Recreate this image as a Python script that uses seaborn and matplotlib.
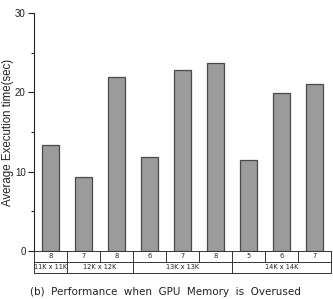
import matplotlib
matplotlib.use("Agg")
import matplotlib.pyplot as plt
import matplotlib.transforms as mtransforms
import seaborn as sns
import pandas as pd
from matplotlib.ticker import MultipleLocator

# data
gpu_counts = ["8", "7", "8", "6", "7", "8", "5", "6", "7"]
exec_times = [13.4, 9.3, 21.9, 11.9, 22.8, 23.7, 11.5, 19.9, 21.1]
groups = ["11K x 11K", "12K x 12K", "13K x 13K", "14K x 14K"]
group_sizes = [1, 2, 3, 3]
caption = "(b)  Performance  when  GPU  Memory  is  Overused"
ylabel = "Average Execution time(sec)"

sns.set_style("white")
plt.rcParams['font.family'] = ['Liberation Sans', 'DejaVu Sans']

df = pd.DataFrame({"idx": list(range(len(exec_times))), "time": exec_times})

fig = plt.figure(figsize=(3.33, 2.99), dpi=100)
ax = fig.add_axes([34 / 333, 1 - 251 / 299, 297 / 333, 238 / 299])
sns.barplot(data=df, x="idx", y="time", ax=ax, color="#9b9b9b",
            edgecolor="#4a4a4a", linewidth=0.9, width=0.5, saturation=1)

ax.set_xlim(-0.5, len(exec_times) - 0.5)
ax.set_ylim(0, 30)
ax.yaxis.set_major_locator(MultipleLocator(10))
ax.yaxis.set_minor_locator(MultipleLocator(5))
ax.tick_params(axis="y", which="major", direction="out", length=4, width=0.8,
               labelsize=7, colors="#222222", left=True, pad=2)
ax.tick_params(axis="y", which="minor", direction="out", length=2, width=0.8, left=True)
ax.set_xticks([])
ax.set_xlabel("")
ax.set_ylabel(ylabel, fontsize=8.3, color="#222222")
ax.yaxis.set_label_coords(-20 / 297, 0.5)
for s in ["top", "right", "bottom"]:
    ax.spines[s].set_visible(False)
ax.spines["left"].set_color("#222222")
ax.spines["left"].set_linewidth(0.8)

# table below axes
trans = mtransforms.blended_transform_factory(ax.transData, ax.transAxes)
ah = 238.0
r1 = -10.5 / ah
r2 = -21.5 / ah
lw = 0.7
lc = "#333333"
x0, x1 = -0.5, len(exec_times) - 0.5
for yy in [0, r1, r2]:
    ax.plot([x0, x1], [yy, yy], transform=trans, color=lc, lw=lw, clip_on=False)
# row1 verticals
for i in range(len(exec_times) + 1):
    ax.plot([i - 0.5, i - 0.5], [0, r1], transform=trans, color=lc, lw=lw, clip_on=False)
# row2 verticals
pos = -0.5
ax.plot([pos, pos], [r1, r2], transform=trans, color=lc, lw=lw, clip_on=False)
for g, n in zip(groups, group_sizes):
    center = pos + n / 2.0
    ax.text(center, (r1 + r2) / 2, g, transform=trans, ha="center", va="center",
            fontsize=4.8, color="#222222", family=['DejaVu Sans'])
    pos += n
    ax.plot([pos, pos], [r1, r2], transform=trans, color=lc, lw=lw, clip_on=False)
for i, c in enumerate(gpu_counts):
    ax.text(i, r1 / 2, c, transform=trans, ha="center", va="center",
            fontsize=4.8, color="#222222", family=['DejaVu Sans'])

fig.text(165 / 333, 1 - 292 / 299.0, caption, ha="center", va="center",
         fontsize=7.5, color="#222222", family=['DejaVu Sans'])

fig.savefig("out.png", dpi=100)
